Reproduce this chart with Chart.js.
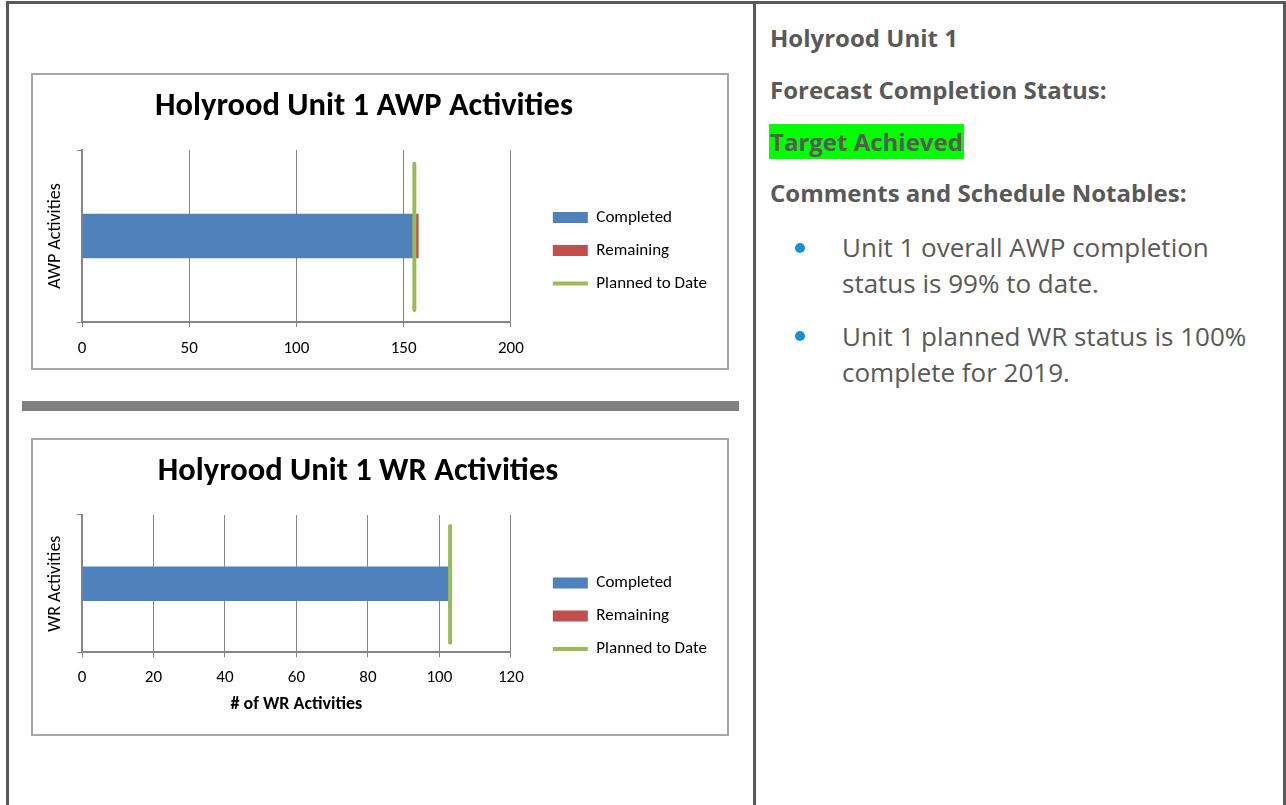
<!DOCTYPE html>
<html>
<head>
<meta charset="utf-8">
<script src="https://cdn.jsdelivr.net/npm/chart.js@4.4.1/dist/chart.umd.min.js"></script>
<style>
  body { margin:0; background:#fff; width:1286px; height:805px; overflow:hidden; position:relative;
         font-family:'Open Sans', sans-serif; color:#595959; }
  .frame { position:absolute; left:6px; top:1px; width:1274px; height:900px; border:3px solid #595959; border-bottom:none; }
  .split { position:absolute; left:753px; top:1px; width:3px; height:810px; background:#595959; }
  .rule  { position:absolute; left:22px; top:401px; width:717px; height:10px; background:#808080; }
  .box   { position:absolute; left:31px; width:694px; border:2px solid #a6a6a6; background:#fff; overflow:hidden; }
  .box canvas { display:block; }
  .h { position:absolute; left:770px; font-weight:700; font-size:24px; line-height:30px; white-space:nowrap; }
  .hl { position:absolute; left:769px; top:124px; height:35px; line-height:35px; padding:0 1px;
        background:#00ff00; font-weight:700; font-size:24px; white-space:nowrap; }
  .dot { position:absolute; left:795px; width:10px; height:10px; border-radius:50%; background:#1592d5; }
  .li { position:absolute; left:842px; font-size:26px; line-height:36px; white-space:nowrap; }
</style>
</head>
<body>
<div class="frame"></div>
<div class="split"></div>

<div class="box" style="top:73px;height:293px"><canvas id="awpChart"></canvas></div>
<div class="rule"></div>
<div class="box" style="top:438px;height:294px"><canvas id="wrChart"></canvas></div>

<div class="h" style="top:23px">Holyrood Unit 1</div>
<div class="h" style="top:75px">Forecast Completion Status:</div>
<div class="hl">Target Achieved</div>
<div class="h" style="top:178px">Comments and Schedule Notables:</div>
<div class="dot" style="top:243px"></div>
<div class="li" style="top:229px">Unit 1 overall AWP completion<br>status is 99% to date.</div>
<div class="dot" style="top:331px"></div>
<div class="li" style="top:318px">Unit 1 planned WR status is 100%<br>complete for 2019.</div>

<script>
const seriesNames = ['Completed', 'Remaining', 'Planned to Date'];
const seriesColors = ['#4f81bd', '#c0504d', '#9bbb59'];

const awpCategory = ['AWP'];
const awpCompleted = [155];
const awpRemaining = [2];
const awpPlanned = [155];
const awpTicks = [0, 50, 100, 150, 200];

const wrCategory = ['WR'];
const wrCompleted = [103];
const wrRemaining = [0];
const wrPlanned = [103];
const wrTicks = [0, 20, 40, 60, 80, 100, 120];

const FONT = 'Carlito, Lato, sans-serif';
const GRID = '#868686';
// vertical reach of the planned marker inside the plot (hidden 0..1 axis)
const LINE_SPAN = [0.07, 0.92];

function legendItems(chart) {
  return Chart.defaults.plugins.legend.labels.generateLabels(chart).map(item => {
    const ds = chart.data.datasets[item.datasetIndex];
    const isLine = ds.type === 'line';
    item.pointStyle = isLine ? 'line' : 'rect';
    item.lineWidth = isLine ? 4 : 0;
    item.strokeStyle = ds.borderColor;
    item.fillStyle = isLine ? ds.borderColor : ds.backgroundColor;
    return item;
  });
}

function makeChart(id, cfg) {
  const ticks = cfg.ticks;
  const canvas = document.getElementById(id);
  // the Excel title sits left of centre: widen the canvas to the left and hide the overflow
  canvas.width = 694 + cfg.shift;
  canvas.height = cfg.height;
  canvas.style.marginLeft = -cfg.shift + 'px';
  return new Chart(canvas, {
    type: 'bar',
    data: {
      labels: cfg.category,
      datasets: [
        { label: seriesNames[0], data: cfg.completed, backgroundColor: seriesColors[0], borderColor: seriesColors[0],
          grouped: false, categoryPercentage: 1, barPercentage: cfg.barPct, order: 2 },
        { label: seriesNames[1], data: cfg.remaining, backgroundColor: seriesColors[1], borderColor: seriesColors[1],
          grouped: false, categoryPercentage: 1, barPercentage: cfg.barPct, order: 2 },
        { type: 'line', label: seriesNames[2], indexAxis: 'x', yAxisID: 'y2',
          data: LINE_SPAN.map(v => ({ x: cfg.planned[0], y: v })),
          borderColor: seriesColors[2], backgroundColor: seriesColors[2], borderWidth: 4,
          borderCapStyle: 'round', pointRadius: 0, fill: false, order: 1 }
      ]
    },
    options: {
      indexAxis: 'y',
      responsive: false,
      animation: false,
      events: [],
      layout: { padding: { left: 8, right: 10, top: 0, bottom: cfg.padBottom } },
      plugins: {
        title: { display: true, text: cfg.title, color: '#000',
                 font: { family: FONT, size: 32.5, weight: 'bold' }, padding: { top: 12, bottom: 24 } },
        legend: { position: 'right', maxWidth: 300,
                  title: { display: true, text: '', padding: { top: cfg.legendShift, bottom: 0 } },
                  labels: { usePointStyle: true, pointStyleWidth: 35, boxHeight: 11, padding: 16,
                            color: '#000', font: { family: FONT, size: 17 },
                            generateLabels: legendItems, sort: (a, b) => a.datasetIndex - b.datasetIndex } },
        tooltip: { enabled: false }
      },
      scales: {
        x: { type: 'linear', stacked: true, min: ticks[0], max: ticks[ticks.length - 1],
             ticks: { stepSize: ticks[1] - ticks[0], color: '#000', padding: cfg.tickPad, font: { family: FONT, size: 17 } },
             grid: { color: GRID, lineWidth: 1, tickLength: 5 },
             border: { color: GRID, width: 2 },
             title: { display: !!cfg.xTitle, text: cfg.xTitle, color: '#000',
                      font: { family: FONT, size: 18, weight: 'bold' }, padding: { top: 0, bottom: 4 } },
             afterFit: s => { s.height = cfg.xHeight; } },
        y: { type: 'category', stacked: true,
             ticks: { display: false },
             grid: { offset: true, drawOnChartArea: false, tickLength: 5, color: GRID },
             border: { color: GRID, width: 2 },
             title: { display: true, text: cfg.yTitle, color: '#000',
                      font: { family: FONT, size: 18 }, padding: { top: 4 + cfg.shift, bottom: 4 } },
             afterFit: s => { s.width = 41 + cfg.shift; } },
        y2: { type: 'linear', position: 'right', min: 0, max: 1, offset: false,
              ticks: { display: false }, grid: { display: false, drawTicks: false, offset: false },
              border: { display: false },
              afterFit: s => { s.width = 26; } }
      }
    }
  });
}

makeChart('awpChart', {
  title: 'Holyrood Unit 1 AWP Activities', yTitle: 'AWP Activities', xTitle: '',
  category: awpCategory, completed: awpCompleted, remaining: awpRemaining, planned: awpPlanned,
  ticks: awpTicks, barPct: 0.26, height: 293, shift: 30,
  tickPad: 12, xHeight: 38, padBottom: 8, legendShift: 51.6
});

makeChart('wrChart', {
  title: 'Holyrood Unit 1 WR Activities', yTitle: 'WR Activities', xTitle: '# of WR Activities',
  category: wrCategory, completed: wrCompleted, remaining: wrRemaining, planned: wrPlanned,
  ticks: wrTicks, barPct: 0.25, height: 294, shift: 42,
  tickPad: 10, xHeight: 66.8, padBottom: 14.8, legendShift: 58.4
});
</script>
</body>
</html>
